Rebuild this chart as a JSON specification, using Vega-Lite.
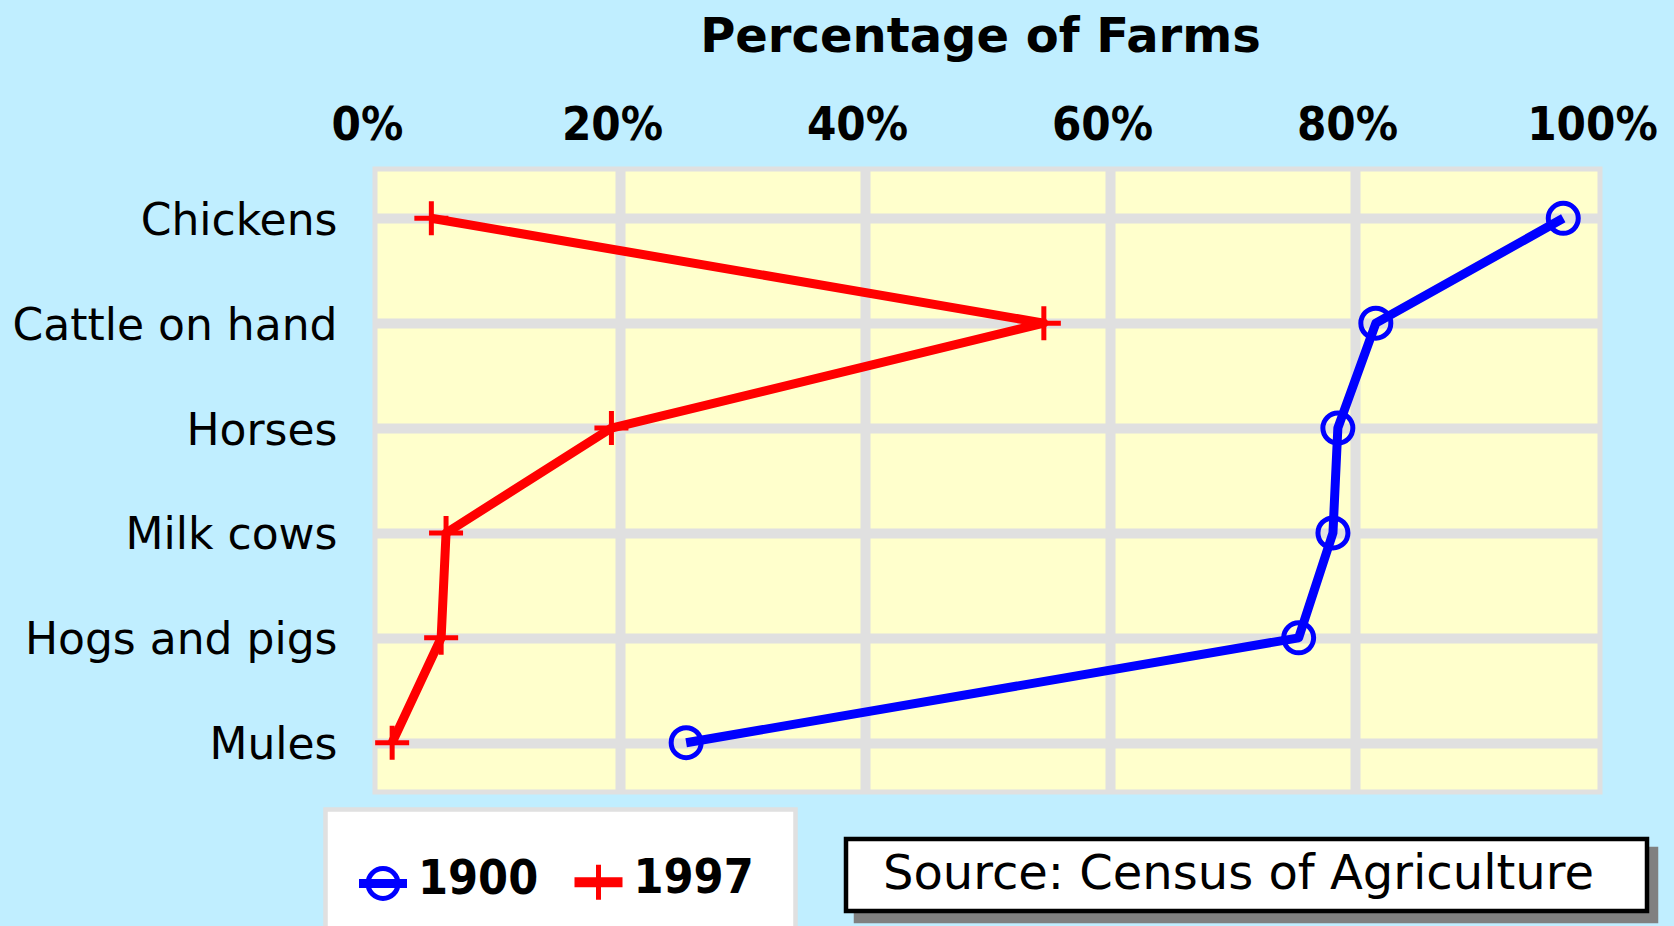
{
  "$schema": "https://vega.github.io/schema/vega-lite/v6.json",
  "width": 1225,
  "height": 623,
  "autosize": {"type": "none"},
  "padding": {"left": 375, "top": 169, "right": 74, "bottom": 134},
  "background": "#C0EEFF",
  "data": {"values": [
    {"animal": "Chickens", "year": "1900", "pct": 97.0},
    {"animal": "Cattle on hand", "year": "1900", "pct": 81.7},
    {"animal": "Horses", "year": "1900", "pct": 78.6},
    {"animal": "Milk cows", "year": "1900", "pct": 78.2},
    {"animal": "Hogs and pigs", "year": "1900", "pct": 75.4},
    {"animal": "Mules", "year": "1900", "pct": 25.4},
    {"animal": "Chickens", "year": "1997", "pct": 4.6},
    {"animal": "Cattle on hand", "year": "1997", "pct": 54.6},
    {"animal": "Horses", "year": "1997", "pct": 19.3},
    {"animal": "Milk cows", "year": "1997", "pct": 5.8},
    {"animal": "Hogs and pigs", "year": "1997", "pct": 5.4},
    {"animal": "Mules", "year": "1997", "pct": 1.4}
  ]},
  "encoding": {
    "x": {
      "field": "pct", "type": "quantitative",
      "scale": {"domain": [0, 100], "nice": false},
      "axis": {
        "orient": "top",
        "values": [0, 20, 40, 60, 80, 100],
        "labelExpr": "datum.value + '%'",
        "labelFont": "DejaVu Sans Condensed, DejaVu Sans",
        "labelFontSize": 47,
        "labelFontWeight": "bold",
        "labelBaseline": "alphabetic",
        "labelPadding": 30,
        "labelOffset": -8,
        "labelFlush": false,
        "labelOverlap": false,
        "grid": true,
        "gridOpacity": {"condition": {"test": "datum.value == 0 || datum.value == 100", "value": 0}, "value": 1},
        "title": "Percentage of Farms",
        "titleFont": "DejaVu Sans",
        "titleFontSize": 48,
        "titleFontWeight": "bold",
        "titleColor": "#000000",
        "titleX": 605,
        "titleY": -118,
        "titleBaseline": "alphabetic",
        "titleAlign": "center"
      }
    },
    "y": {
      "field": "animal", "type": "nominal",
      "sort": ["Chickens", "Cattle on hand", "Horses", "Milk cows", "Hogs and pigs", "Mules"],
      "scale": {"type": "point", "padding": 0.47},
      "axis": {
        "orient": "left",
        "title": null,
        "grid": true,
        "labelFont": "DejaVu Sans",
        "labelFontSize": 44,
        "labelFontWeight": "normal",
        "labelBaseline": "alphabetic",
        "labelOffset": 16,
        "labelPadding": 38,
        "labelAlign": "right",
        "labelLimit": 1000
      }
    }
  },
  "layer": [
    {
      "mark": {"type": "line", "strokeWidth": 9, "strokeJoin": "round"},
      "encoding": {
        "color": {"field": "year", "type": "nominal", "scale": {"domain": ["1900", "1997"], "range": ["#0000FF", "#FF0000"]}, "legend": null},
        "detail": {"field": "year"},
        "order": {"value": null}
      }
    },
    {
      "mark": {"type": "point", "filled": false, "strokeWidth": 5, "size": 1156, "opacity": 1},
      "encoding": {
        "color": {"field": "year", "type": "nominal", "scale": {"domain": ["1900", "1997"], "range": ["#0000FF", "#FF0000"]}, "legend": null},
        "shape": {"field": "year", "type": "nominal", "scale": {"domain": ["1900", "1997"], "range": ["M-0.882,0A0.882,0.882 0 1,0 0.882,0A0.882,0.882 0 1,0 -0.882,0", "M-1,0H1M0,-1V1"]}, "legend": null}
      }
    },
    {
      "mark": {"type": "point", "filled": false, "strokeWidth": 5, "size": 2500, "opacity": 0},
      "encoding": {
        "color": {
          "field": "year", "type": "nominal",
          "scale": {"domain": ["1900", "1997"], "range": ["#0000FF", "#FF0000"]},
          "legend": {"orient": "none", "legendX": -49.5, "legendY": 640.5, "direction": "horizontal", "title": null, "fillColor": "#FFFFFF", "strokeColor": "#E0E0E0", "padding": 41.5, "symbolSize": 2500, "symbolStrokeWidth": 5, "symbolOpacity": 1, "labelFont": "DejaVu Sans Condensed, DejaVu Sans", "labelFontSize": 48, "labelFontWeight": "bold", "labelColor": "#000000", "labelOffset": -4, "columnPadding": 25.5, "labelLimit": 1000}
        },
        "shape": {
          "field": "year", "type": "nominal",
          "scale": {"domain": ["1900", "1997"], "range": ["M-1.42,0.06H0.5M-1.42,0.22H0.5M-1.06,0.14A0.6,0.6 0 1,0 0.14,0.14A0.6,0.6 0 1,0 -1.06,0.14", "M-1.42,0.04H0.5M-1.42,0.24H0.5M-0.46,-0.56V0.84"]},
          "legend": {"orient": "none", "legendX": -49.5, "legendY": 640.5, "direction": "horizontal", "title": null, "fillColor": "#FFFFFF", "strokeColor": "#E0E0E0", "padding": 41.5, "symbolSize": 2500, "symbolStrokeWidth": 5, "symbolOpacity": 1, "labelFont": "DejaVu Sans Condensed, DejaVu Sans", "labelFontSize": 48, "labelFontWeight": "bold", "labelColor": "#000000", "labelOffset": -4, "columnPadding": 25.5, "labelLimit": 1000}
        }
      }
    },
    {
      "mark": {"type": "point", "opacity": 0},
      "encoding": {
        "shape": {
          "datum": "Source: Census of Agriculture",
          "legend": {"orient": "none", "legendX": 481, "legendY": 680, "title": null, "fillColor": "#808080", "strokeColor": "#808080", "padding": 12, "symbolSize": 2304, "symbolOffset": 728, "symbolOpacity": 0, "symbolStrokeWidth": 0, "labelFont": "DejaVu Sans", "labelFontSize": 48, "labelFontWeight": "normal", "labelColor": "#808080", "labelOffset": -751, "labelLimit": 2000, "labelExpr": "''"}
        }
      }
    },
    {
      "mark": {"type": "point", "opacity": 0},
      "encoding": {
        "shape": {
          "datum": "Source: Census of Agriculture",
          "legend": {"orient": "none", "legendX": 471, "legendY": 670, "title": null, "fillColor": "#FFFFFF", "strokeColor": "#000000", "padding": 12, "symbolSize": 4, "symbolOffset": 752, "symbolOpacity": 0, "symbolStrokeWidth": 0, "labelFont": "DejaVu Sans", "labelFontSize": 48, "labelFontWeight": "normal", "labelColor": "#000000", "labelOffset": -775, "labelLimit": 2000}
        }
      }
    }
  ],
  "resolve": {
    "scale": {"color": "independent", "shape": "independent"},
    "legend": {"color": "independent", "shape": "independent"}
  },
  "config": {
    "view": {"fill": "#FFFFCC", "stroke": "#E0E0E0", "strokeWidth": 5},
    "legend": {"strokeWidth": 4.5},
    "axis": {"domain": false, "ticks": false, "tickSize": 0, "gridColor": "#E0E0E0", "gridWidth": 10, "labelColor": "#000000"}
  }
}
